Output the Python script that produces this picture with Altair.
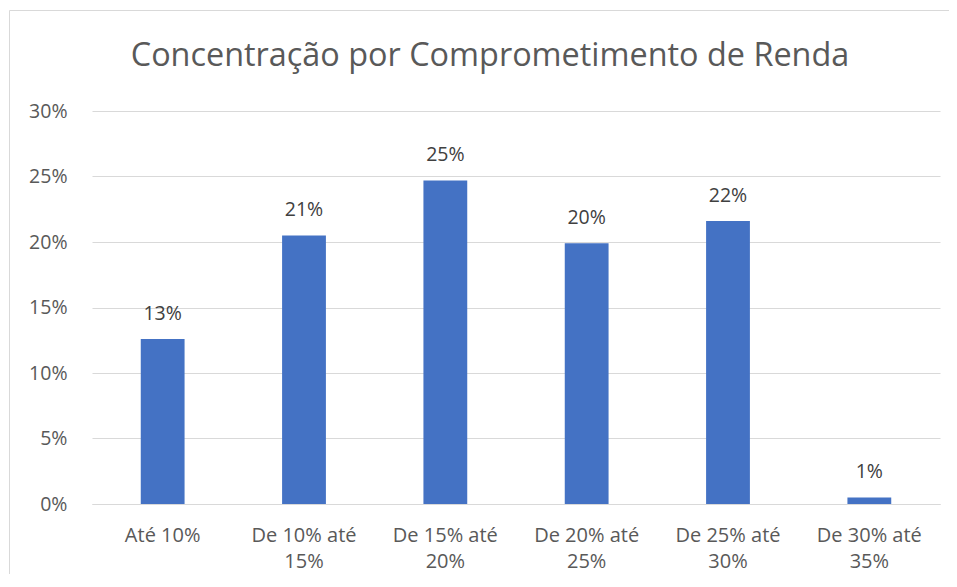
import altair as alt
import pandas as pd

title_text = "Concentração por Comprometimento de Renda"
categories = ["Até 10%", "De 10% até 15%", "De 15% até 20%", "De 20% até 25%", "De 25% até 30%", "De 30% até 35%"]
label_lines = [["Até 10%"], ["De 10% até", "15%"], ["De 15% até", "20%"], ["De 20% até", "25%"], ["De 25% até", "30%"], ["De 30% até", "35%"]]
values = [0.126, 0.205, 0.247, 0.199, 0.216, 0.005]
labels = ["13%", "21%", "25%", "20%", "22%", "1%"]

df = pd.DataFrame({"cat": categories, "val": values, "lab": labels})

W, H = 848, 393
FONT = "Open Sans"

label_expr = "{" + ",".join(
    '"%s": [%s]' % (c, ",".join('"%s"' % l for l in ls)) for c, ls in zip(categories, label_lines)
) + "}[datum.value]"

base = alt.Chart(df)
one = alt.Chart(pd.DataFrame({"t": [title_text]}))

frame = one.mark_rect(fill=None, stroke="#D9D9D9", strokeWidth=1).encode(
    x=alt.value(-82.5), x2=alt.value(W + 40), y=alt.value(-100.5), y2=alt.value(H + 120)
)

title = one.mark_text(font=FONT, fontSize=32.4, color="#595959", baseline="alphabetic", align="center").encode(
    x=alt.value(W / 2 - 26), y=alt.value(-45), text="t:N"
)

bars = base.mark_bar(color="#4472C4").encode(
    x=alt.X("cat:N", sort=categories, title=None,
            scale=alt.Scale(paddingInner=0.69, paddingOuter=0.345),
            axis=alt.Axis(labelAngle=0, labelExpr=label_expr, labelFont=FONT, labelFontSize=20,
                          labelColor="#595959", labelPadding=21, labelLineHeight=26,
                          ticks=False, domainColor="#D9D9D9", domainWidth=1, grid=False)),
    y=alt.Y("val:Q", title=None,
            scale=alt.Scale(domain=[0, 0.30], nice=False),
            axis=alt.Axis(format=".0%", values=[0, 0.05, 0.10, 0.15, 0.20, 0.25, 0.30],
                          labelFont=FONT, labelFontSize=19.5, labelColor="#595959",
                          labelPadding=25, ticks=False, domain=False,
                          gridColor="#D9D9D9", gridWidth=1)),
)

text = base.mark_text(font=FONT, fontSize=19.5, color="#404040", baseline="alphabetic", dy=-19).encode(
    x=alt.X("cat:N", sort=categories),
    y=alt.Y("val:Q"),
    text="lab:N",
)

chart = alt.layer(frame, bars, text, title).properties(
    width=W, height=H,
    background="white",
    autosize=alt.AutoSizeParams(type="none"),
    padding={"left": 84, "top": 103, "right": 9, "bottom": 70},
).configure_view(strokeWidth=0)

chart.save("out.html", embed_options={"renderer": "svg", "actions": False})
